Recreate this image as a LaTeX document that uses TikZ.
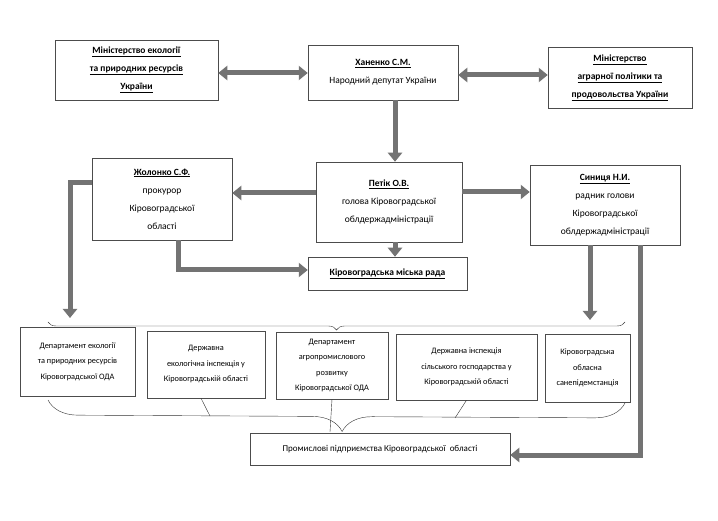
\documentclass[tikz,border=0pt]{standalone}
\usepackage{fontspec}
\setmainfont{Carlito}
\usetikzlibrary{arrows.meta,decorations.pathreplacing}
\begin{document}
\begin{tikzpicture}[x=1pt,y=-1pt,
  box/.style={draw=black!70,line width=0.5pt,align=center,font=\fontsize{9.5}{18}\selectfont,inner sep=2pt},
  small/.style={box,font=\fontsize{8.3}{15.5}\selectfont},
  big/.style={line width=5pt,draw=black!55,-{Triangle[length=9pt,width=14pt]}},
  bigb/.style={big,{Triangle[length=9pt,width=14pt]}-{Triangle[length=9pt,width=14pt]}},
  thin/.style={draw=black!80,line width=0.4pt}]
\useasboundingbox[fill=white] (0,0) rectangle (718,521);
\newcommand{\bu}[1]{\underline{\textbf{#1}}}
\node[box,minimum width=163pt,minimum height=60pt] (me) at (136.5,70) {\bu{Міністерство екології}\\\bu{та природних ресурсів}\\\bu{України}};
\node[box,minimum width=150pt,minimum height=55pt] (kh) at (383,72.5) {\bu{Ханенко С.М.}\\Народний депутат України};
\node[box,minimum width=144pt,minimum height=61pt] (ma) at (620,77.5) {\bu{Міністерство}\\\bu{аграрної політики та}\\\bu{продовольства України}};
\node[box,minimum width=140pt,minimum height=82pt] (zh) at (162,199) {\bu{Жолонко С.Ф.}\\прокурор\\Кіровоградської\\області};
\node[box,minimum width=146pt,minimum height=80pt] (pe) at (389,202) {\bu{Петік О.В.}\\голова Кіровоградської\\облдержадміністрації};
\node[box,minimum width=150pt,minimum height=80pt] (sy) at (605,205) {\bu{Синиця Н.И.}\\радник голови\\Кіровоградської\\облдержадміністрації};
\node[box,minimum width=159pt,minimum height=33pt] (ra) at (387.5,273.5) {\bu{Кіровоградська міська рада}};
\node[small,minimum width=115pt,minimum height=69pt] (d1) at (77.5,361.5) {Департамент екології\\та природних ресурсів\\Кіровоградської ОДА};
\node[small,minimum width=118pt,minimum height=67pt] (d2) at (206,364.5) {Державна\\екологічна інспекція у\\Кіровоградській області};
\node[small,minimum width=112pt,minimum height=67pt] (d3) at (332,365.5) {Департамент\\агропромислового\\розвитку\\Кіровоградської ОДА};
\node[small,minimum width=141pt,minimum height=66pt] (d4) at (466.5,367) {Державна інспекція\\сільського господарства у\\Кіровоградській області};
\node[small,minimum width=85pt,minimum height=68pt] (d5) at (587.5,368) {Кіровоградська\\обласна\\санепідемстанція};
\node[box,font=\fontsize{9}{16}\selectfont,minimum width=260pt,minimum height=32pt] (pr) at (380,449) {Промислові підприємства Кіровоградської\ \ області};
\draw[bigb] (me.east |- 0,73) -- (kh.west |- 0,73);
\draw[bigb] (kh.east |- 0,75) -- (ma.west |- 0,75);
\draw[big] (kh.south -| 395,0) -- (pe.north -| 395,0);
\draw[big] (pe.west |- 0,193) -- (zh.east |- 0,193);
\draw[big] (pe.east |- 0,192) -- (sy.west |- 0,192);
\draw[big] (pe.south -| 395,0) -- (ra.north -| 395,0);
\draw[big] (zh.south -| 178,0) -- (178,270) -- (ra.west |- 0,270);
\draw[big] (zh.west |- 0,183) -- (70,183) -- (70,318);
\draw[big] (sy.south -| 590,0) -- (590,320);
\draw[big] (sy.south -| 640,0) -- (640,455) -- (pr.east |- 0,455);
\coordinate (bt1) at (48,322); \coordinate (bt2) at (625,322);
\draw[thin,decorate,decoration={brace,amplitude=8pt}] (bt2) -- (bt1);
\coordinate (bb1) at (48,400); \coordinate (bb2) at (625,403);
\draw[thin,decorate,decoration={brace,amplitude=30pt,aspect=0.49}] (bb2) -- (bb1);
\draw[thin] (d2.south) ++(-5,0) -- (210,416);
\draw[thin] (d3.south) -- (330,432);
\draw[thin] (d4.south) -- (455,418);
\end{tikzpicture}
\end{document}
